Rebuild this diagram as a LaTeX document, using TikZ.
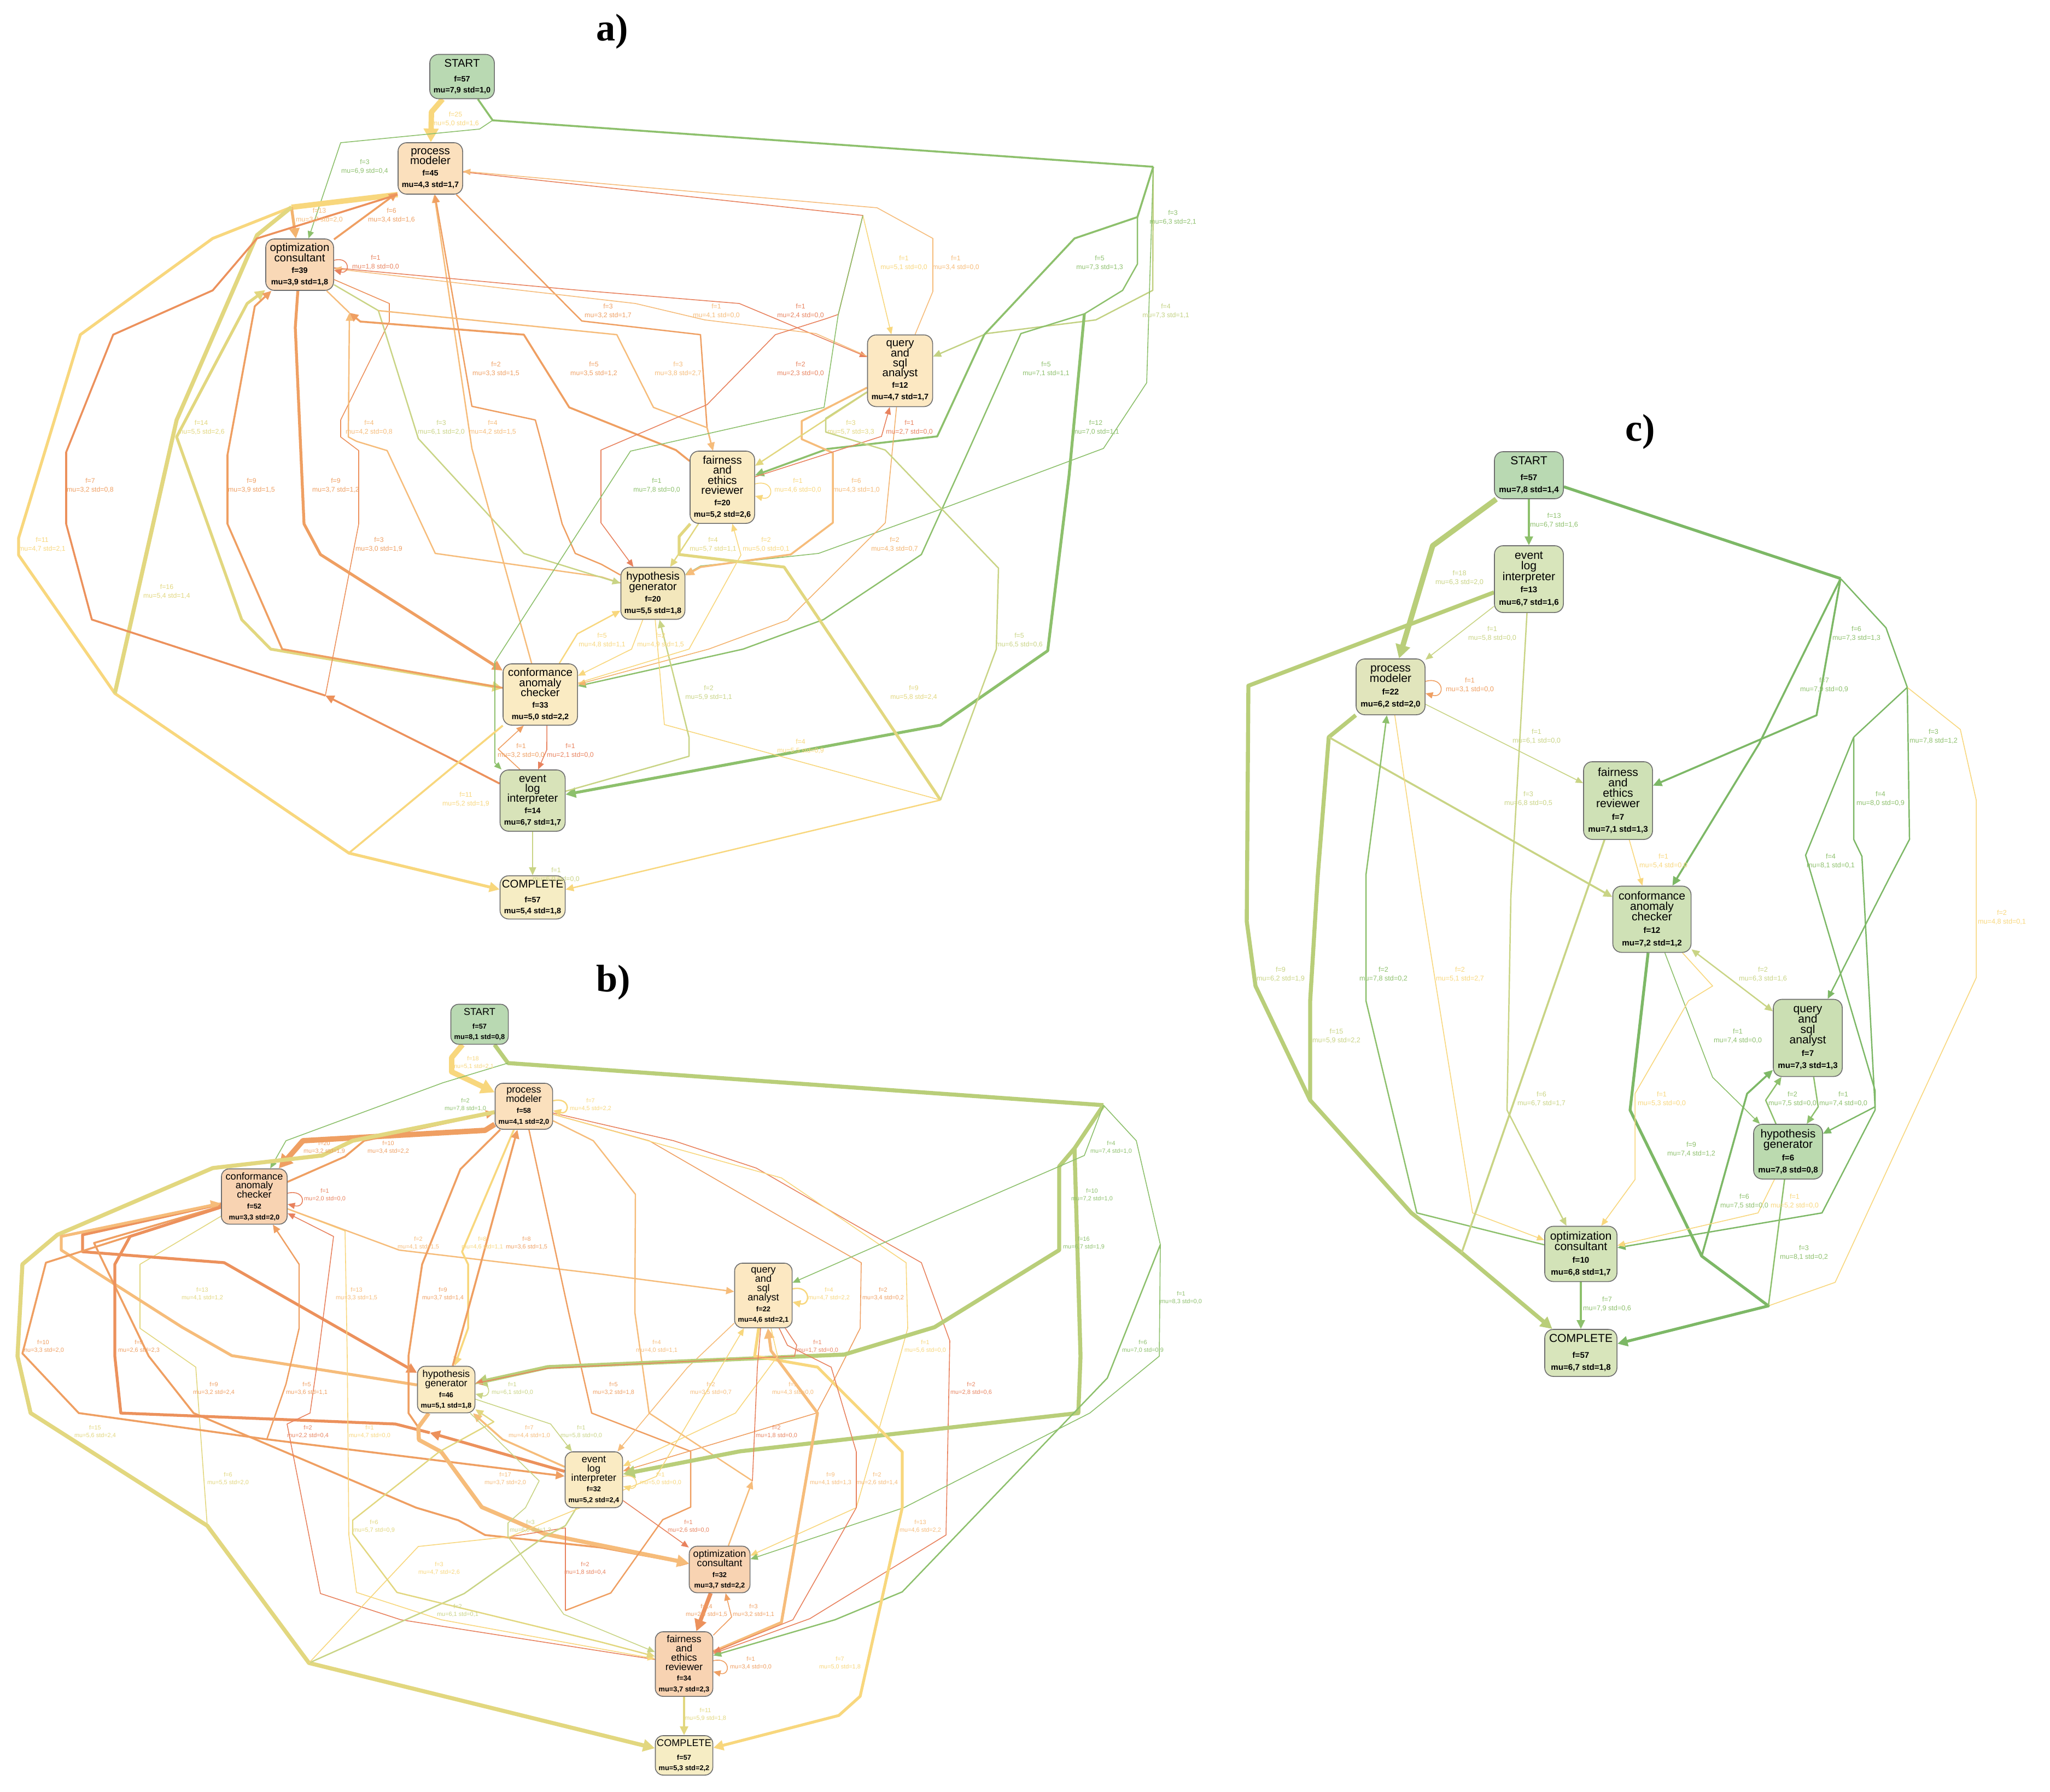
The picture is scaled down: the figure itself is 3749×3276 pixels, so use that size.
\documentclass[tikz,border=0pt]{standalone}
\usepackage{fontspec}
\setmainfont{Liberation Sans}
\newfontfamily\titlefont{Liberation Serif}
\usetikzlibrary{arrows.meta,calc,backgrounds}
\definecolor{cYl}{HTML}{F8D77D}
\definecolor{cKh}{HTML}{E2D77F}
\definecolor{cYg}{HTML}{C9D485}
\definecolor{cYg2}{HTML}{C2D182}
\definecolor{cLg}{HTML}{B9CE79}
\definecolor{cGr}{HTML}{8DC06C}
\definecolor{cGd}{HTML}{7DB866}
\definecolor{cOr}{HTML}{EF9F62}
\definecolor{cOr2}{HTML}{EC915C}
\definecolor{cOr3}{HTML}{F3B36E}
\definecolor{cLo}{HTML}{F6BC7A}
\definecolor{cRd}{HTML}{E8825E}
\definecolor{cBd}{HTML}{6E6E6E}
\definecolor{nGs}{HTML}{B9D9B2}
\definecolor{nPe}{HTML}{FBE0BD}
\definecolor{nPd}{HTML}{F9D8B6}
\definecolor{nSa}{HTML}{F8D3B2}
\definecolor{nCr}{HTML}{FCE8C2}
\definecolor{nCy}{HTML}{FAEBC3}
\definecolor{nHy}{HTML}{F3E7BC}
\definecolor{nEl}{HTML}{D8E3B9}
\definecolor{nCo}{HTML}{F6EDC4}
\definecolor{nC1}{HTML}{D8E5BB}
\definecolor{nC2}{HTML}{E1E5BC}
\definecolor{nC3}{HTML}{CFE1B6}
\definecolor{nC4}{HTML}{CBDFB3}
\definecolor{nC5}{HTML}{BBDAAF}
\definecolor{nC6}{HTML}{D3E3B8}
\newcommand\dta{\fontsize{4.1}{4.4}\selectfont\bfseries}
\newcommand\dtb{\fontsize{3.65}{4.0}\selectfont\bfseries}
\newcommand\dtc{\fontsize{4.3}{4.6}\selectfont\bfseries}
\newcommand\tightls{\lineskiplimit=-6pt\lineskip=0pt}
\tikzset{
 basebox/.style={draw=cBd,line width=0.45pt,rounded corners=4.5pt,inner sep=0pt,align=center},
 nda/.style={basebox,font=\fontsize{5.8}{5.15}\selectfont\tightls},
 ndb/.style={basebox,rounded corners=4pt,font=\fontsize{5.15}{4.8}\selectfont\tightls},
 ndc/.style={basebox,font=\fontsize{6.0}{5.45}\selectfont\tightls},
 ela/.style={font=\fontsize{3.5}{4.4}\selectfont,align=center,inner sep=0pt},
 elb/.style={font=\fontsize{3.1}{4.0}\selectfont,align=center,inner sep=0pt},
 elc/.style={font=\fontsize{3.6}{4.6}\selectfont,align=center,inner sep=0pt},
 ed/.style={line join=round},
 ar/.style={-{Triangle[length=3.2pt 1.4,width=2.4pt 1.8]}},
 ba/.style={{Triangle[length=3.2pt 1.4,width=2.4pt 1.8]}-{Triangle[length=3.2pt 1.4,width=2.4pt 1.8]}},
 w1/.style={line width=0.45pt}, w2/.style={line width=0.7pt}, w3/.style={line width=1.0pt},
 w4/.style={line width=1.5pt}, w5/.style={line width=2.1pt}, w6/.style={line width=2.8pt},
 ttl/.style={font=\titlefont\bfseries\fontsize{20}{20}\selectfont,inner sep=0pt}
}
\begin{document}
\begin{tikzpicture}[x=0.01cm,y=-0.01cm]
\begin{scope}[on background layer]
\fill[white] (0,0) rectangle (3749,3276);
\end{scope}
\useasboundingbox (0,0) rectangle (3749,3276);
\node[ttl] (ta) at (1120,58) {a)};
\node[ttl] (tb) at (1122,1797) {b)};
\node[ttl] (tc) at (3000,790) {c)};

%================ GRAPH A =================
\node[nda,fill=nGs,minimum width=1.18cm,minimum height=0.81cm] (STARTa) at (845,140) {START\\[2.6pt]\dta f=57\\[0.6pt]\dta mu=7,9 std=1,0};
\node[nda,fill=nPe,minimum width=1.18cm,minimum height=0.94cm] (PMa) at (787,308) {process\\modeler\\[0.9pt]\dta f=45\\[0.9pt]\dta mu=4,3 std=1,7};
\node[nda,fill=nPd,minimum width=1.24cm,minimum height=0.94cm] (OCa) at (548,484) {optimization\\consultant\\[0.9pt]\dta f=39\\[0.9pt]\dta mu=3,9 std=1,8};
\node[nda,fill=nCr,minimum width=1.19cm,minimum height=1.31cm] (QAa) at (1646,678) {query\\and\\sql\\analyst\\[0.9pt]\dta f=12\\[0.9pt]\dta mu=4,7 std=1,7};
\node[nda,fill=nCy,minimum width=1.18cm,minimum height=1.32cm] (FERa) at (1321,891) {fairness\\and\\ethics\\reviewer\\[0.9pt]\dta f=20\\[0.9pt]\dta mu=5,2 std=2,6};
\node[nda,fill=nHy,minimum width=1.17cm,minimum height=0.95cm] (HGa) at (1194,1085) {hypothesis\\generator\\[0.9pt]\dta f=20\\[0.9pt]\dta mu=5,5 std=1,8};
\node[nda,fill=nCy,minimum width=1.36cm,minimum height=1.12cm] (CACa) at (988,1270) {conformance\\anomaly\\checker\\[0.9pt]\dta f=33\\[0.9pt]\dta mu=5,0 std=2,2};
\node[nda,fill=nEl,minimum width=1.19cm,minimum height=1.12cm] (ELa) at (974,1464) {event\\log\\interpreter\\[0.9pt]\dta f=14\\[0.9pt]\dta mu=6,7 std=1,7};
\node[nda,fill=nCo,minimum width=1.19cm,minimum height=0.79cm] (COMPLETEa) at (974,1641) {COMPLETE\\[2.4pt]\dta f=57\\[0.6pt]\dta mu=5,4 std=1,8};

\coordinate (ja1) at (901,220);
\coordinate (ja2) at (533,379);
\coordinate (ja3) at (210,1268);
\coordinate (ja4) at (595,1272);
\coordinate (ja5) at (639,572);
\coordinate (ja6) at (692,568);
\coordinate (ja7) at (1578,394);
\coordinate (ja8) at (2109,305);
\coordinate (ja9) at (2080,397);
\coordinate (ja10) at (2080,483);
\coordinate (ja11) at (1534,569);
\coordinate (ja12) at (1720,1463);
\coordinate (ja13) at (638,1560);
\coordinate (ja14) at (1983,574);

\begin{scope}[on background layer]
\draw[ed,ar,w6,cYl] (STARTa) -- (789,205) -- (PMa);
\draw[ed,w3,cGr] (STARTa) -- (ja1) -- (ja8);
\draw[ed,ar,w1,cGr] (ja1) -- (877,236) -- (623,261) -- (OCa);
\draw[ed,w6,cYl] (PMa.south west) -- (ja2);
\draw[ed,ar,w4,cOr3] (ja2) -- (OCa);
\draw[ed,ar,w3,cOr] (OCa) -- (PMa);
\draw[ed,ar,w4,cYl] (ja2) -- (389,436) -- (147,612) -- (34,984) -- (34,1015) -- (ja3) -- (ja13) -- (COMPLETEa);
\draw[ed,w5,cKh] (ja2) -- (470,430) -- (323,768) -- (ja3);
\draw[ed,ba,w4,cKh] (OCa) -- (452,555) -- (323,799) -- (442,1133) -- (495,1187) -- (CACa);
\draw[ed,ar,w3,cOr] (CACa) -- (516,1187) -- (416,958) -- (416,832) -- (466,560) -- (OCa);
\draw[ed,w3,cOr2] (PMa.south west) -- (470,436) -- (389,531) -- (207,612) -- (121,827) -- (121,958) -- (168,1133) -- (ja4);
\draw[ed,ar,w3,cOr2] (ELa) -- (817,1383) -- (ja4);
\draw[ed,w1,cOr2] (OCa) -- (712,555) -- (712,588) -- (623,768) -- (623,799) -- (656,824) -- (656,958) -- (ja4);
\draw[ed,ar,w4,cOr] (OCa) -- (540,599) -- (556,958) -- (586,1014) -- (CACa);
\draw[ed,w2,cLo] (OCa) -- (ja5);
\draw[ed,ar,w2,cLo] (HGa) -- (1100,1055) -- (796,1012) -- (708,824) -- (652,807) -- (637,799) -- (ja5);
\draw[ed,ar,w2,cYg] (OCa) -- (ja6) -- (765,802) -- (958,1012) -- (HGa);
\draw[ed,ar,w2,cLo] (CACa) -- (863,820) -- (PMa);
\draw[ed,ar,w2,cOr] (HGa) -- (1100,1032) -- (1052,1012) -- (1028,958) -- (993,820) -- (979,768) -- (863,743) -- (PMa);
\draw[ed,ar,w2,cOr] (PMa) -- (1064,587) -- (1281,612) -- (1293,782) -- (FERa);
\draw[ed,ar,w3,cOr] (FERa) -- (1236,823) -- (1041,745) -- (958,612) -- (659,588) -- (ja5);
\draw[ed,ar,w1,cRd] (OCa) -- (1050,530) -- (1352,555) -- (QAa);
\draw[ed,ar,w1,cLo] (QAa) -- (1492,610) -- (1289,585) -- (1162,555) -- (OCa);
\draw[ed,ar,w2,cLo] (ja6) -- (1128,612) -- (1195,745) -- (1293,782) -- (FERa);
\draw[ed,ar,w1,cRd] (PMa) -- (ja7) -- (1533,575) -- (1510,583) -- (1418,612) -- (1293,740) -- (1099,823) -- (1099,956) -- (HGa);
\draw[ed,ar,w1,cYl] (ja7) -- (QAa);
\draw[ed,ar,w1,cLo] (QAa) -- (1706,533) -- (1706,436) -- (1604,380) -- (PMa);
\draw[ed,ar,w1,cGr] (ja7) -- (1533,575) -- (1507,745) -- (1153,825) -- (905,1210) -- (905,1395) -- (ELa);
\draw[ed,ar,w2,cYg2] (ja8) -- (2108,531) -- (2004,585) -- (1804,610) -- (QAa);
\draw[ed,ar,w3,cGr] (ja8) -- (ja9) -- (1965,436) -- (1800,612) -- (1714,798) -- (1513,821) -- (FERa);
\draw[ed,ar,w2,cGr] (ja9) -- (ja10) -- (2053,531) -- (ja14) -- (1867,610) -- (1773,820) -- (1685,1014) -- (1506,1133) -- (1359,1187) -- (CACa);
\draw[ed,ar,w4,cGr] (ja14) -- (1955,870) -- (1916,1190) -- (1720,1326) -- (ELa);
\draw[ed,ar,w1,cGr] (ja8) -- (2097,700) -- (2018,820) -- (1721,931) -- (1497,1012) -- (1281,1035) -- (HGa);
\draw[ed,ar,w3,cLo] (QAa) -- (1466,770) -- (1466,803) -- (1523,828) -- (1523,956) -- (1446,1014) -- (1281,1037) -- (HGa);
\draw[ed,ar,w2,cKh] (QAa) -- (FERa);
\draw[ed,ar,w1,cRd] (FERa) -- (1612,798) -- (QAa);
\draw[ed,ar,w1,cOr3] (QAa) -- (1619,956) -- (1440,1134) -- (1296,1187) -- (CACa);
\draw[ed,w4,cKh] (FERa) -- (1242,981) -- (1242,1014) -- (1434,1037) -- (ja12);
\draw[ed,w1,cYl] (HGa) -- (1215,1325) -- (ja12);
\draw[ed,ar,w2,cYl] (ja12) -- (COMPLETEa);
\draw[ed,w2,cYg] (QAa) -- (1510,765) -- (1510,790) -- (1619,823) -- (1826,1039) -- (1822,1187) -- (ja12);
\draw[ed,ar,w2,cYg] (ELa) -- (1260,1383) -- (1260,1348) -- (HGa);
\draw[ed,ar,w2,cKh] (FERa) -- (HGa);
\draw[ed,ar,w1,cYl] (CACa) -- (1260,1187) -- (1355,1015) -- (FERa);
\draw[ed,ar,w2,cYl] (CACa) -- (1056,1159) -- (HGa);
\draw[ed,ar,w1,cYl] (HGa) -- (1155,1187) -- (CACa);
\draw[ed,ar,w1,cRd] (CACa.-78) -- (1000,1371) -- (ELa.80);
\draw[ed,ar,w1,cOr] (ELa.112) -- (911,1370) -- (CACa.-118);
\draw[ed,ar,w2,cYg] (ELa) -- (COMPLETEa);
\draw[ed,w3,cYl] (ja13) -- (CACa);
\draw[ed,ar,w1,cRd] ($(OCa.east)+(0,-8)$) .. controls +(30,-8) and +(30,8) .. ($(OCa.east)+(0,10)$);
\draw[ed,ar,w1,cYl] ($(FERa.east)+(0,-6)$) .. controls +(36,-10) and +(36,10) .. ($(FERa.east)+(0,16)$);
\end{scope}

\node[ela,text=cYl] (la1) at (833,218) {f=25\\mu=5,0 std=1,6};
\node[ela,text=cGr] (la2) at (667,305) {f=3\\mu=6,9 std=0,4};
\node[ela,text=cLo] (la3) at (584,394) {f=13\\mu=3,7 std=2,0};
\node[ela,text=cOr] (la4) at (716,394) {f=6\\mu=3,4 std=1,6};
\node[ela,text=cRd] (la5) at (687,480) {f=1\\mu=1,8 std=0,0};
\node[ela,text=cYl] (la6) at (77,996) {f=11\\mu=4,7 std=2,1};
\node[ela,text=cKh] (la7) at (305,1082) {f=16\\mu=5,4 std=1,4};
\node[ela,text=cKh] (la8) at (368,782) {f=14\\mu=5,5 std=2,6};
\node[ela,text=cOr] (la9) at (460,888) {f=9\\mu=3,9 std=1,5};
\node[ela,text=cOr] (la10) at (165,888) {f=7\\mu=3,2 std=0,8};
\node[ela,text=cOr] (la11) at (693,996) {f=3\\mu=3,0 std=1,9};
\node[ela,text=cOr] (la12) at (614,888) {f=9\\mu=3,7 std=1,2};
\node[ela,text=cLo] (la13) at (675,782) {f=4\\mu=4,2 std=0,8};
\node[ela,text=cYg] (la14) at (807,782) {f=3\\mu=6,1 std=2,0};
\node[ela,text=cLo] (la15) at (901,782) {f=4\\mu=4,2 std=1,5};
\node[ela,text=cOr] (la16) at (907,675) {f=2\\mu=3,3 std=1,5};
\node[ela,text=cOr] (la17) at (1112,569) {f=3\\mu=3,2 std=1,7};
\node[ela,text=cOr] (la18) at (1086,675) {f=5\\mu=3,5 std=1,2};
\node[ela,text=cRd] (la19) at (1464,569) {f=1\\mu=2,4 std=0,0};
\node[ela,text=cLo] (la20) at (1310,569) {f=1\\mu=4,1 std=0,0};
\node[ela,text=cLo] (la21) at (1240,675) {f=3\\mu=3,8 std=2,7};
\node[ela,text=cRd] (la22) at (1464,675) {f=2\\mu=2,3 std=0,0};
\node[ela,text=cYl] (la23) at (1653,481) {f=1\\mu=5,1 std=0,0};
\node[ela,text=cLo] (la24) at (1748,481) {f=1\\mu=3,4 std=0,0};
\node[ela,text=cGr] (la25) at (1201,888) {f=1\\mu=7,8 std=0,0};
\node[ela,text=cYg2] (la26) at (2132,569) {f=4\\mu=7,3 std=1,1};
\node[ela,text=cGr] (la27) at (2011,481) {f=5\\mu=7,3 std=1,3};
\node[ela,text=cGr] (la28) at (1913,675) {f=5\\mu=7,1 std=1,1};
\node[ela,text=cGr] (la29) at (2004,782) {f=12\\mu=7,0 std=1,1};
\node[ela,text=cGr] (la30) at (2145,398) {f=3\\mu=6,3 std=2,1};
\node[ela,text=cLo] (la31) at (1566,888) {f=6\\mu=4,3 std=1,0};
\node[ela,text=cKh] (la32) at (1556,782) {f=3\\mu=5,7 std=3,3};
\node[ela,text=cRd] (la33) at (1663,782) {f=1\\mu=2,7 std=0,0};
\node[ela,text=cOr3] (la34) at (1636,996) {f=2\\mu=4,3 std=0,7};
\node[ela,text=cKh] (la35) at (1671,1267) {f=9\\mu=5,8 std=2,4};
\node[ela,text=cYl] (la36) at (1464,1365) {f=4\\mu=5,5 std=0,9};
\node[ela,text=cYg] (la37) at (1864,1171) {f=5\\mu=6,5 std=0,6};
\node[ela,text=cYg] (la38) at (1296,1267) {f=2\\mu=5,9 std=1,1};
\node[ela,text=cKh] (la39) at (1304,996) {f=4\\mu=5,7 std=1,1};
\node[ela,text=cYl] (la40) at (1401,996) {f=2\\mu=5,0 std=0,1};
\node[ela,text=cYl] (la41) at (1101,1171) {f=5\\mu=4,8 std=1,1};
\node[ela,text=cYl] (la42) at (1208,1171) {f=2\\mu=4,9 std=1,5};
\node[ela,text=cRd] (la43) at (1043,1373) {f=1\\mu=2,1 std=0,0};
\node[ela,text=cOr] (la44) at (953,1373) {f=1\\mu=3,2 std=0,0};
\node[ela,text=cYg] (la45) at (1017,1600) {f=1\\mu=6,0 std=0,0};
\node[ela,text=cYl] (la46) at (852,1462) {f=11\\mu=5,2 std=1,9};
\node[ela,text=cYl] (la47) at (1459,888) {f=1\\mu=4,6 std=0,0};

%================ GRAPH B =================
\node[ndb,fill=nGs,minimum width=1.05cm,minimum height=0.73cm] (STARTb) at (877,1873) {START\\[2.3pt]\dtb f=57\\[0.5pt]\dtb mu=8,1 std=0,8};
\node[ndb,fill=nPe,minimum width=1.05cm,minimum height=0.84cm] (PMb) at (958,2023) {process\\modeler\\[0.8pt]\dtb f=58\\[0.8pt]\dtb mu=4,1 std=2,0};
\node[ndb,fill=nSa,minimum width=1.20cm,minimum height=1.01cm] (CACb) at (465,2188) {conformance\\anomaly\\checker\\[0.8pt]\dtb f=52\\[0.8pt]\dtb mu=3,3 std=2,0};
\node[ndb,fill=nCr,minimum width=1.05cm,minimum height=1.18cm] (QAb) at (1396,2369) {query\\and\\sql\\analyst\\[0.8pt]\dtb f=22\\[0.8pt]\dtb mu=4,6 std=2,1};
\node[ndb,fill=nCy,minimum width=1.05cm,minimum height=0.85cm] (HGb) at (816,2541) {hypothesis\\generator\\[0.8pt]\dtb f=46\\[0.8pt]\dtb mu=5,1 std=1,8};
\node[ndb,fill=nCy,minimum width=1.05cm,minimum height=1.02cm] (ELb) at (1086,2706) {event\\log\\interpreter\\[0.8pt]\dtb f=32\\[0.8pt]\dtb mu=5,2 std=2,4};
\node[ndb,fill=nSa,minimum width=1.11cm,minimum height=0.85cm] (OCb) at (1316,2870) {optimization\\consultant\\[0.8pt]\dtb f=32\\[0.8pt]\dtb mu=3,7 std=2,2};
\node[ndb,fill=nSa,minimum width=1.05cm,minimum height=1.18cm] (FERb) at (1251,3043) {fairness\\and\\ethics\\reviewer\\[0.8pt]\dtb f=34\\[0.8pt]\dtb mu=3,7 std=2,3};
\node[ndb,fill=nCo,minimum width=1.05cm,minimum height=0.72cm] (COMPLETEb) at (1251,3210) {COMPLETE\\[2.2pt]\dtb f=57\\[0.5pt]\dtb mu=5,3 std=2,2};

\coordinate (jb1) at (929,1944);
\coordinate (jb2) at (2018,2021);
\coordinate (jb3) at (379,2790);
\coordinate (jb4) at (565,3041);
\coordinate (jb5) at (786,2620);
\coordinate (jb6) at (488,2632);
\coordinate (jb7) at (765,2610);
\coordinate (jb8) at (1376,2708);
\coordinate (jb9) at (1965,2100);
\coordinate (jb10) at (2122,2276);

\begin{scope}[on background layer]
\draw[ed,ar,w6,cYl] (STARTb) -- (826,1934) -- (826,1960) -- (PMb);
\draw[ed,w5,cLg] (STARTb) -- (jb1) -- (jb2);
\draw[ed,ar,w1,cGr] (jb1) -- (810,1980) -- (523,2086) -- (CACb);
\draw[ed,ar,w6,cOr] (PMb) -- (887,2067) -- (554,2086) -- (CACb);
\draw[ed,ar,w3,cOr] (CACb) -- (631,2115) -- (666,2086) -- (PMb);
\draw[ed,ar,w5,cKh] (PMb) -- (645,2086) -- (589,2113) -- (389,2136) -- (105,2258) -- (41,2312) -- (32,2480) -- (56,2584) -- (jb3) -- (jb4) -- (COMPLETEb);
\draw[ed,w1,cKh] (CACb) -- (256,2312) -- (256,2429) -- (358,2500) -- (jb3);
\draw[ed,ar,w4,cOr2] (CACb) -- (151,2258) -- (151,2289) -- (410,2309) -- (HGb);
\draw[ed,ar,w4,cLo] (HGb) -- (424,2479) -- (333,2427) -- (112,2286) -- (112,2261) -- (CACb);
\draw[ed,ar,w3,cOr] (CACb) -- (172,2273) -- (272,2480) -- (354,2584) -- (761,2757) -- (838,2780) -- (887,2807) -- (1100,2830) -- (OCb);
\draw[ed,ar,w3,cOr] (CACb) -- (84,2309) -- (41,2475) -- (144,2584) -- (jb6) -- (ELb);
\draw[ed,w4,cOr2] (CACb) -- (238,2261) -- (210,2312) -- (210,2480) -- (221,2584) -- (723,2604) -- (jb5);
\draw[ed,ar,w4,cOr2] (ELb) -- (jb5);
\draw[ed,ar,w2,cOr] (jb6) -- (523,2531) -- (547,2429) -- (547,2312) -- (CACb);
\draw[ed,ar,w1,cRd] (FERb) -- (733,2962) -- (586,2914) -- (525,2604) -- (567,2584) -- (582,2480) -- (610,2261) -- (CACb);
\draw[ed,ar,w1,cYl] (CACb) -- (631,2251) -- (635,2480) -- (638,2807) -- (652,2912) -- (807,2962) -- (FERb);
\draw[ed,ar,w2,cLo] (CACb) -- (730,2286) -- (1100,2330) -- (QAb);
\draw[ed,ar,w3,cYl] (PMb) -- (845,2289) -- (856,2312) -- (856,2429) -- (HGb);
\draw[ed,ar,w3,cOr] (HGb) -- (PMb);
\draw[ed,w3,cOr] (PMb) -- (842,2138) -- (772,2312) -- (747,2480) -- (747,2584) -- (jb7);
\draw[ed,ar,w5,cLo] (HGb) -- (jb7) -- (766,2633) -- (807,2655) -- (881,2756) -- (996,2805) -- (OCb);
\draw[ed,w2,cOr] (PMb) -- (1040,2400) -- (1082,2584) -- (1263,2654) -- (1263,2756) -- (1212,2779) -- (1117,2913) -- (1034,2945);
\draw[ed,w1,cRd] (1034,2945) -- (1034,2794) -- (933,2810);
\draw[ed,ar,w1,cRd] (PMb) -- (1232,2086) -- (1383,2136) -- (1555,2235) -- (1685,2309) -- (1737,2452) -- (1730,2807) -- (1481,2960) -- (FERb);
\draw[ed,ar,w1,cOr] (PMb) -- (1187,2086) -- (1450,2238) -- (1575,2309) -- (1573,2429) -- (1527,2520) -- (1493,2584) -- (ELb);
\draw[ed,w2,cLo] (PMb) -- (1085,2086) -- (1162,2184) -- (1161,2400) -- (1187,2584) -- (jb8);
\draw[ed,ar,w2,cLo] (OCb) -- (jb8);
\draw[ed,ar,w1,cLo] (QAb) -- (1257,2501) -- (ELb);
\draw[ed,ar,w1,cYl] (PMb) -- (1429,2154) -- (1657,2309) -- (1660,2429) -- (1646,2480) -- (1566,2757) -- (OCb);
\draw[ed,ar,w5,cLg] (jb2) -- (jb9) -- (1937,2133) -- (1937,2286) -- (1709,2427) -- (1544,2477) -- (1002,2500) -- (HGb);
\draw[ed,ar,w5,cLg] (jb9) -- (1976,2480) -- (1972,2584) -- (1353,2654) -- (ELb);
\draw[ed,ar,w1,cGr] (jb2) -- (1983,2113) -- (1937,2133) -- (1695,2238) -- (QAb);
\draw[ed,w1,cGr] (jb2) -- (2078,2086) -- (jb10);
\draw[ed,ar,w1,cGr] (jb10) -- (2120,2480) -- (1993,2584) -- (1653,2757) -- (OCb);
\draw[ed,ar,w2,cGr] (jb10) -- (2025,2520) -- (1650,2911) -- (1527,2962) -- (FERb);
\draw[ed,ar,w4,cYl] (QAb) -- (1380,2480) -- (1495,2500) -- (1650,2655) -- (1650,2757) -- (1573,3102) -- (1534,3137) -- (COMPLETEb);
\draw[ed,ar,w4,cLo] (FERb) -- (1429,2967) -- (1495,2584) -- (1410,2470) -- (QAb);
\draw[ed,ar,w1,cRd] (QAb) -- (1440,2460) -- (1520,2500) -- (1566,2655) -- (1566,2757) -- (1450,2962) -- (FERb);
\draw[ed,ar,w1,cRd] (QAb) -- (1457,2460) -- (1453,2480) -- (1002,2502) -- (HGb);
\draw[ed,ar,w5,cOr2] (OCb) -- (FERb);
\draw[ed,ar,w1,cOr] (FERb) -- (1338,2957) -- (OCb);
\draw[ed,ar,w3,cKh] (FERb) -- (COMPLETEb);
\draw[ed,ar,w1,cRd] (ELb) -- (OCb);
\draw[ed,ar,w1,cYg] (HGb) -- (1007,2604) -- (ELb);
\draw[ed,ar,w3,cLo] (ELb) -- (919,2632) -- (HGb);
\draw[ed,w2,cYg] (jb4) -- (849,2914) -- (996,2810) -- (1034,2790) -- (ELb);
\draw[ed,ar,w1,cYl] (jb4) -- (765,2828) -- (933,2810) -- (1200,2700) -- (QAb);
\draw[ed,ba,w2,cKh] (HGb) -- (903,2600) -- (803,2655) -- (645,2780) -- (645,2805) -- (726,2912) -- (1100,3003) -- (FERb);
\draw[ed,ar,w1,cYg] (HGb) -- (986,2708) -- (961,2757) -- (929,2785) -- (929,2810) -- (1031,2952) -- (FERb);
\draw[ed,ar,w1,cYl] (QAb) -- (1422,2480) -- (1345,2584) -- (ELb);
\draw[ed,w1,cRd] (QAb) -- (1385,2500) -- (jb8);
\draw[ed,ar,w2,cYl] ($(PMb.east)+(0,-10)$) .. controls +(32,-8) and +(32,8) .. ($(PMb.east)+(0,8)$);
\draw[ed,ar,w1,cRd] ($(CACb.east)+(0,-6)$) .. controls +(34,-8) and +(34,8) .. ($(CACb.east)+(0,14)$);
\draw[ed,ar,w2,cYl] ($(QAb.east)+(0,-12)$) .. controls +(34,-8) and +(34,8) .. ($(QAb.east)+(0,12)$);
\draw[ed,ar,w1,cYg] ($(HGb.east)+(0,-10)$) .. controls +(30,-8) and +(30,8) .. ($(HGb.east)+(0,8)$);
\draw[ed,ar,w1,cYl] ($(ELb.east)+(0,-6)$) .. controls +(30,-8) and +(30,8) .. ($(ELb.east)+(0,12)$);
\draw[ed,ar,w1,cOr] ($(FERb.east)+(0,-6)$) .. controls +(32,-8) and +(32,8) .. ($(FERb.east)+(0,14)$);
\end{scope}

\node[elb,text=cYl] (lb1) at (865,1943) {f=18\\mu=5,1 std=2,1};
\node[elb,text=cGr] (lb2) at (851,2020) {f=2\\mu=7,8 std=1,0};
\node[elb,text=cOr] (lb3) at (593,2098) {f=20\\mu=3,2 std=1,9};
\node[elb,text=cOr] (lb4) at (710,2098) {f=10\\mu=3,4 std=2,2};
\node[elb,text=cYl] (lb5) at (1080,2020) {f=7\\mu=4,5 std=2,2};
\node[elb,text=cRd] (lb6) at (594,2185) {f=1\\mu=2,0 std=0,0};
\node[elb,text=cKh] (lb7) at (174,2618) {f=15\\mu=5,6 std=2,4};
\node[elb,text=cKh] (lb8) at (370,2366) {f=13\\mu=4,1 std=1,2};
\node[elb,text=cKh] (lb9) at (417,2704) {f=6\\mu=5,5 std=2,0};
\node[elb,text=cOr] (lb10) at (254,2462) {f=9\\mu=2,6 std=2,3};
\node[elb,text=cOr] (lb11) at (79,2462) {f=10\\mu=3,3 std=2,0};
\node[elb,text=cLo] (lb12) at (652,2366) {f=13\\mu=3,3 std=1,5};
\node[elb,text=cOr] (lb13) at (810,2366) {f=9\\mu=3,7 std=1,4};
\node[elb,text=cLo] (lb14) at (765,2273) {f=2\\mu=4,1 std=1,5};
\node[elb,text=cYl] (lb15) at (882,2273) {f=8\\mu=4,6 std=1,1};
\node[elb,text=cOr] (lb16) at (963,2273) {f=8\\mu=3,6 std=1,5};
\node[elb,text=cOr] (lb17) at (391,2539) {f=9\\mu=3,2 std=2,4};
\node[elb,text=cOr] (lb18) at (561,2539) {f=5\\mu=3,6 std=1,1};
\node[elb,text=cRd] (lb19) at (563,2618) {f=2\\mu=2,2 std=0,4};
\node[elb,text=cYl] (lb20) at (676,2618) {f=1\\mu=4,7 std=0,0};
\node[elb,text=cKh] (lb21) at (684,2791) {f=6\\mu=5,7 std=0,9};
\node[elb,text=cYl] (lb22) at (803,2868) {f=3\\mu=4,7 std=2,6};
\node[elb,text=cYg] (lb23) at (837,2945) {f=2\\mu=6,1 std=0,1};
\node[elb,text=cYg] (lb24) at (970,2791) {f=3\\mu=6,0 std=1,3};
\node[elb,text=cLo] (lb25) at (924,2704) {f=17\\mu=3,7 std=2,0};
\node[elb,text=cYg] (lb26) at (937,2539) {f=1\\mu=6,1 std=0,0};
\node[elb,text=cLo] (lb27) at (968,2618) {f=7\\mu=4,4 std=1,0};
\node[elb,text=cYg] (lb28) at (1063,2618) {f=1\\mu=5,8 std=0,0};
\node[elb,text=cRd] (lb29) at (1070,2868) {f=2\\mu=1,8 std=0,4};
\node[elb,text=cOr] (lb30) at (1122,2539) {f=5\\mu=3,2 std=1,8};
\node[elb,text=cLo] (lb31) at (1300,2539) {f=2\\mu=3,5 std=0,7};
\node[elb,text=cLo] (lb32) at (1450,2539) {f=1\\mu=4,3 std=0,0};
\node[elb,text=cRd] (lb33) at (1420,2618) {f=2\\mu=1,8 std=0,0};
\node[elb,text=cYl] (lb34) at (1208,2704) {f=1\\mu=5,0 std=0,0};
\node[elb,text=cRd] (lb35) at (1259,2791) {f=1\\mu=2,6 std=0,0};
\node[elb,text=cLo] (lb36) at (1519,2704) {f=9\\mu=4,1 std=1,3};
\node[elb,text=cLo] (lb37) at (1604,2704) {f=2\\mu=2,6 std=1,4};
\node[elb,text=cLo] (lb38) at (1683,2791) {f=13\\mu=4,6 std=2,2};
\node[elb,text=cRd] (lb39) at (1776,2539) {f=2\\mu=2,8 std=0,6};
\node[elb,text=cOr] (lb40) at (1292,2945) {f=14\\mu=2,4 std=1,5};
\node[elb,text=cOr] (lb41) at (1378,2945) {f=3\\mu=3,2 std=1,1};
\node[elb,text=cOr] (lb42) at (1373,3041) {f=1\\mu=3,4 std=0,0};
\node[elb,text=cYl] (lb43) at (1536,3041) {f=7\\mu=5,0 std=1,8};
\node[elb,text=cKh] (lb44) at (1290,3135) {f=11\\mu=5,9 std=1,8};
\node[elb,text=cLo] (lb45) at (1201,2462) {f=4\\mu=4,0 std=1,1};
\node[elb,text=cRd] (lb46) at (1495,2462) {f=1\\mu=1,7 std=0,0};
\node[elb,text=cYl] (lb47) at (1692,2462) {f=1\\mu=5,6 std=0,0};
\node[elb,text=cYl] (lb48) at (1516,2366) {f=4\\mu=4,7 std=2,2};
\node[elb,text=cOr] (lb49) at (1615,2366) {f=2\\mu=3,4 std=0,2};
\node[elb,text=cGr] (lb50) at (2032,2098) {f=4\\mu=7,4 std=1,0};
\node[elb,text=cGr] (lb51) at (1997,2185) {f=10\\mu=7,2 std=1,0};
\node[elb,text=cGr] (lb52) at (1982,2273) {f=16\\mu=6,7 std=1,9};
\node[elb,text=cGr] (lb53) at (2090,2462) {f=6\\mu=7,0 std=0,9};
\node[elb,text=cGr] (lb54) at (2160,2373) {f=1\\mu=8,3 std=0,0};

%================ GRAPH C =================
\node[ndc,fill=nGs,minimum width=1.26cm,minimum height=0.86cm] (STARTc) at (2796,869) {START\\[2.8pt]\dtc f=57\\[0.7pt]\dtc mu=7,8 std=1,4};
\node[ndc,fill=nC1,minimum width=1.26cm,minimum height=1.22cm] (ELc) at (2796,1059) {event\\log\\interpreter\\[1pt]\dtc f=13\\[1pt]\dtc mu=6,7 std=1,6};
\node[ndc,fill=nC2,minimum width=1.26cm,minimum height=1.02cm] (PMc) at (2543,1256) {process\\modeler\\[1pt]\dtc f=22\\[1pt]\dtc mu=6,2 std=2,0};
\node[ndc,fill=nC3,minimum width=1.26cm,minimum height=1.42cm] (FERc) at (2959,1464) {fairness\\and\\ethics\\reviewer\\[1pt]\dtc f=7\\[1pt]\dtc mu=7,1 std=1,3};
\node[ndc,fill=nC3,minimum width=1.43cm,minimum height=1.21cm] (CACc) at (3021,1681) {conformance\\anomaly\\checker\\[1pt]\dtc f=12\\[1pt]\dtc mu=7,2 std=1,2};
\node[ndc,fill=nC4,minimum width=1.26cm,minimum height=1.41cm] (QAc) at (3306,1898) {query\\and\\sql\\analyst\\[1pt]\dtc f=7\\[1pt]\dtc mu=7,3 std=1,3};
\node[ndc,fill=nC5,minimum width=1.26cm,minimum height=1.00cm] (HGc) at (3270,2106) {hypothesis\\generator\\[1pt]\dtc f=6\\[1pt]\dtc mu=7,8 std=0,8};
\node[ndc,fill=nC6,minimum width=1.32cm,minimum height=1.01cm] (OCc) at (2891,2293) {optimization\\consultant\\[1pt]\dtc f=10\\[1pt]\dtc mu=6,8 std=1,7};
\node[ndc,fill=nC1,minimum width=1.32cm,minimum height=0.86cm] (COMPLETEc) at (2891,2474) {COMPLETE\\[2.8pt]\dtc f=57\\[0.7pt]\dtc mu=6,7 std=1,8};

\coordinate (jc1) at (3366,1058);
\coordinate (jc2) at (3488,1257);
\coordinate (jc3) at (3390,1348);
\coordinate (jc4) at (2396,2012);
\coordinate (jc5) at (3234,2388);
\coordinate (jc6) at (2430,1348);
\coordinate (jc7) at (2673,2291);
\coordinate (jc8) at (3112,2297);

\begin{scope}[on background layer]
\draw[ed,ar,w3,cGr] (STARTc) -- (ELc);
\draw[ed,ar,w6,cLg] (STARTc) -- (2620,998) -- (PMc);
\draw[ed,w4,cGd] (STARTc) -- (jc1);
\draw[ed,ar,w3,cGd] (jc1) -- (3322,1308) -- (FERc);
\draw[ed,ar,w3,cGd] (jc1) -- (3217,1360) -- (CACc);
\draw[ed,w2,cGd] (jc1) -- (3449,1148) -- (jc2);
\draw[ed,ar,w2,cGd] (jc2) -- (3492,1535) -- (3458,1600) -- (QAc);
\draw[ed,w1,cYl] (jc2) -- (3585,1334) -- (3614,1463) -- (3614,1788) -- (3356,2345) -- (jc5);
\draw[ed,w2,cGd] (jc2) -- (jc3);
\draw[ed,ar,w2,cGd] (jc3) -- (3390,1535) -- (3405,1566) -- (3429,2024) -- (HGc);
\draw[ed,ar,w2,cGd] (jc3) -- (3302,1564) -- (3429,1994) -- (3429,2030) -- (3332,2218) -- (OCc);
\draw[ed,ar,w1,cYg] (ELc) -- (PMc);
\draw[ed,ar,w5,cLg] (ELc) -- (2283,1254) -- (2280,1685) -- (2296,1803) -- (jc4) -- (2581,2218) -- (jc7) -- (COMPLETEc);
\draw[ed,w5,cLg] (PMc) -- (jc6) -- (2410,1600) -- (2396,1830) -- (jc4);
\draw[ed,ar,w3,cYg] (jc6) -- (CACc);
\draw[ed,ar,w1,cYg] (PMc) -- (FERc);
\draw[ed,ar,w1,cYl] (PMc) -- (2600,1640) -- (2693,2218) -- (OCc);
\draw[ed,ar,w2,cGr] (OCc) -- (2591,2218) -- (2498,1830) -- (2498,1600) -- (PMc);
\draw[ed,ar,w2,cYg] (ELc) -- (2763,1640) -- (2756,2030) -- (OCc);
\draw[ed,w3,cYg] (FERc) -- (jc7);
\draw[ed,ar,w1,cYl] (FERc) -- (CACc);
\draw[ed,ba,w2,cYg] (CACc) -- (QAc);
\draw[ed,ar,w1,cGr] (CACc) -- (3132,1970) -- (HGc);
\draw[ed,ar,w4,cGd] (CACc) -- (2981,2030) -- (jc8) -- (jc5) -- (COMPLETEc);
\draw[ed,ar,w3,cGd] (jc8) -- (3195,2000) -- (QAc);
\draw[ed,ar,w1,cYl] (CACc) -- (3132,1803) -- (3088,1830) -- (2990,2000) -- (2990,2157) -- (OCc);
\draw[ed,ar,w2,cGr] (HGc) -- (3229,2012) -- (QAc);
\draw[ed,ar,w2,cGr] (QAc) -- (3325,2024) -- (HGc);
\draw[ed,ar,w1,cYl] (HGc) -- (3215,2218) -- (OCc);
\draw[ed,w2,cGr] (HGc) -- (jc5);
\draw[ed,ar,w3,cGr] (OCc) -- (COMPLETEc);
\draw[ed,ar,w1,cOr] ($(PMc.east)+(0,-10)$) .. controls +(36,-10) and +(36,10) .. ($(PMc.east)+(0,12)$);
\end{scope}

\node[elc,text=cGr] (lc1) at (2842,952) {f=13\\mu=6,7 std=1,6};
\node[elc,text=cYg] (lc2) at (2669,1057) {f=18\\mu=6,3 std=2,0};
\node[elc,text=cGr] (lc3) at (3336,1253) {f=7\\mu=7,9 std=0,9};
\node[elc,text=cGr] (lc4) at (3395,1159) {f=6\\mu=7,3 std=1,3};
\node[elc,text=cGr] (lc5) at (3536,1347) {f=3\\mu=7,8 std=1,2};
\node[elc,text=cYl] (lc6) at (3661,1678) {f=2\\mu=4,8 std=0,1};
\node[elc,text=cGr] (lc7) at (3439,1461) {f=4\\mu=8,0 std=0,9};
\node[elc,text=cGr] (lc8) at (3348,1575) {f=4\\mu=8,1 std=0,1};
\node[elc,text=cYg] (lc9) at (2729,1159) {f=1\\mu=5,8 std=0,0};
\node[elc,text=cYg] (lc10) at (2342,1782) {f=9\\mu=6,2 std=1,9};
\node[elc,text=cYg] (lc11) at (2444,1895) {f=15\\mu=5,9 std=2,2};
\node[elc,text=cYg] (lc12) at (2810,1347) {f=1\\mu=6,1 std=0,0};
\node[elc,text=cYl] (lc13) at (2670,1782) {f=2\\mu=5,1 std=2,7};
\node[elc,text=cGr] (lc14) at (2530,1782) {f=2\\mu=7,8 std=0,2};
\node[elc,text=cYg] (lc15) at (2795,1461) {f=3\\mu=6,8 std=0,5};
\node[elc,text=cYg] (lc16) at (2819,2010) {f=6\\mu=6,7 std=1,7};
\node[elc,text=cYl] (lc17) at (3042,1575) {f=1\\mu=5,4 std=0,0};
\node[elc,text=cYg] (lc18) at (3224,1782) {f=2\\mu=6,3 std=1,6};
\node[elc,text=cGr] (lc19) at (3178,1895) {f=1\\mu=7,4 std=0,0};
\node[elc,text=cGr] (lc20) at (3093,2102) {f=9\\mu=7,4 std=1,2};
\node[elc,text=cGr] (lc21) at (3190,2197) {f=6\\mu=7,5 std=0,0};
\node[elc,text=cYl] (lc22) at (3039,2010) {f=1\\mu=5,3 std=0,0};
\node[elc,text=cGr] (lc23) at (3278,2010) {f=2\\mu=7,5 std=0,0};
\node[elc,text=cGr] (lc24) at (3371,2010) {f=1\\mu=7,4 std=0,0};
\node[elc,text=cYl] (lc25) at (3282,2197) {f=1\\mu=5,2 std=0,0};
\node[elc,text=cGr] (lc26) at (3299,2291) {f=3\\mu=8,1 std=0,2};
\node[elc,text=cGr] (lc27) at (2939,2385) {f=7\\mu=7,9 std=0,6};
\node[elc,text=cOr] (lc28) at (2688,1253) {f=1\\mu=3,1 std=0,0};
\end{tikzpicture}
\end{document}
